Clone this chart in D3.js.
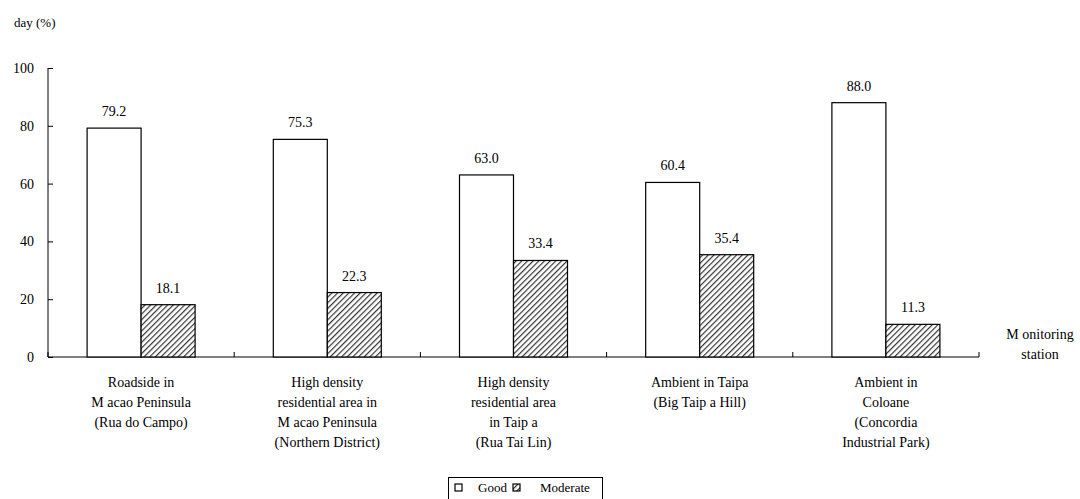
<!DOCTYPE html>
<html>
<head>
<meta charset="utf-8">
<script src="https://cdn.jsdelivr.net/npm/d3@7"></script>
<style>
  body { margin: 0; background: #fff; }
</style>
</head>
<body>
<div id="chart"></div>
<script>
// data
const stations = [
    ['Roadside in', 'M acao Peninsula', '(Rua do Campo)'],
    ['High density', 'residential area in', 'M acao Peninsula', '(Northern District)'],
    ['High density', 'residential area', 'in Taip a', '(Rua Tai Lin)'],
    ['Ambient in Taipa', '(Big Taip a Hill)'],
    ['Ambient in', 'Coloane', '(Concordia', 'Industrial Park)']
];
const good = [79.2, 75.3, 63.0, 60.4, 88.0];
const moderate = [18.1, 22.3, 33.4, 35.4, 11.3];
const yTicks = [0, 20, 40, 60, 80, 100];
const seriesNames = ['Good', 'Moderate'];

const width = 1080, height = 499;
const plot = { left: 48, right: 979, top: 68, bottom: 357 };
const serif = 'Liberation Serif';

const svg = d3.select('#chart').append('svg')
    .attr('xmlns', 'http://www.w3.org/2000/svg')
    .attr('width', width)
    .attr('height', height);

const defs = svg.append('defs');
const hatch = defs.append('pattern')
    .attr('id', 'hatch')
    .attr('patternUnits', 'userSpaceOnUse')
    .attr('width', 4)
    .attr('height', 4)
    .attr('patternTransform', 'rotate(45)');
hatch.append('rect').attr('width', 4).attr('height', 4).attr('fill', '#fff');
hatch.append('line')
    .attr('x1', 0).attr('y1', 0).attr('x2', 0).attr('y2', 4)
    .attr('stroke', '#333').attr('stroke-width', 2.4);

const x = d3.scaleBand()
    .domain(d3.range(stations.length))
    .range([plot.left, plot.right]);
const inner = d3.scaleBand()
    .domain([0, 1])
    .range([0, 108]);
const y = d3.scaleLinear()
    .domain([0, 100])
    .range([plot.bottom, plot.top]);

// y axis
const yAxis = svg.append('g')
    .attr('transform', `translate(${plot.left},0)`)
    .call(d3.axisLeft(y).tickValues(yTicks).tickSize(-5).tickPadding(14).tickFormat(d3.format('d')));
yAxis.attr('font-family', serif);
yAxis.select('.domain').attr('d', `M0,${plot.top}V${plot.bottom}`);
yAxis.selectAll('text').attr('font-size', 14).attr('fill', '#000');

// x axis
const xAxis = svg.append('g')
    .attr('transform', `translate(0,${plot.bottom})`);
xAxis.append('line')
    .attr('x1', plot.left).attr('x2', plot.right)
    .attr('stroke', '#000');
xAxis.selectAll('.tk')
    .data(d3.range(stations.length + 1))
    .join('line')
    .attr('class', 'tk')
    .attr('x1', d => plot.left + d * x.step())
    .attr('x2', d => plot.left + d * x.step())
    .attr('y1', 0).attr('y2', -5)
    .attr('stroke', '#000');

// bars
const groups = svg.selectAll('.grp')
    .data(d3.range(stations.length))
    .join('g')
    .attr('class', 'grp')
    .attr('transform', i => `translate(${x(i) + x.bandwidth() / 2 - 54},0)`);

groups.each(function (i) {
    const g = d3.select(this);
    const vals = [good[i], moderate[i]];
    g.selectAll('rect')
        .data(vals)
        .join('rect')
        .attr('x', (d, j) => inner(j))
        .attr('y', d => y(d))
        .attr('width', inner.bandwidth())
        .attr('height', d => y(0) - y(d))
        .attr('fill', (d, j) => j === 0 ? '#fff' : 'url(#hatch)')
        .attr('stroke', '#000')
        .attr('stroke-width', 1.2);
    g.selectAll('.val')
        .data(vals)
        .join('text')
        .attr('class', 'val')
        .attr('x', (d, j) => inner(j) + inner.bandwidth() / 2)
        .attr('y', d => y(d) - 12)
        .attr('text-anchor', 'middle')
        .attr('font-size', 14)
        .text(d => d.toFixed(1));
});

// category labels
svg.selectAll('.cat')
    .data(stations)
    .join('text')
    .attr('class', 'cat')
    .attr('text-anchor', 'middle')
    .attr('font-size', 14)
    .each(function (lines, i) {
        d3.select(this).selectAll('tspan')
            .data(lines)
            .join('tspan')
            .attr('x', x(i) + x.bandwidth() / 2)
            .attr('y', (d, k) => 387 + k * 20)
            .text(d => d);
    });

// axis titles
svg.append('text')
    .attr('x', 14).attr('y', 27)
    .attr('font-size', 13)
    .text('day  (%)');
svg.append('text')
    .attr('text-anchor', 'middle')
    .attr('font-size', 14)
    .selectAll('tspan')
    .data(['M onitoring', 'station'])
    .join('tspan')
    .attr('x', 1040)
    .attr('y', (d, k) => 339 + k * 20)
    .text(d => d);

// legend
const legend = svg.append('g');
legend.append('rect')
    .attr('x', 448.5).attr('y', 477.5)
    .attr('width', 154).attr('height', 30)
    .attr('fill', '#fff').attr('stroke', '#000');
const items = [{ x: 455, tx: 478 }, { x: 513, tx: 540 }];
items.forEach((it, j) => {
    legend.append('rect')
        .attr('x', it.x).attr('y', 484)
        .attr('width', 7).attr('height', 7)
        .attr('fill', j === 0 ? '#fff' : 'url(#hatch)')
        .attr('stroke', '#000')
        .attr('stroke-width', 1.2);
    legend.append('text')
        .attr('x', it.tx).attr('y', 492)
        .attr('font-size', 13)
        .text(seriesNames[j]);
});

// every text element gets the serif face directly
svg.selectAll('text, tspan')
    .attr('font-family', serif)
    .style('font-family', serif);
</script>
</body>
</html>
